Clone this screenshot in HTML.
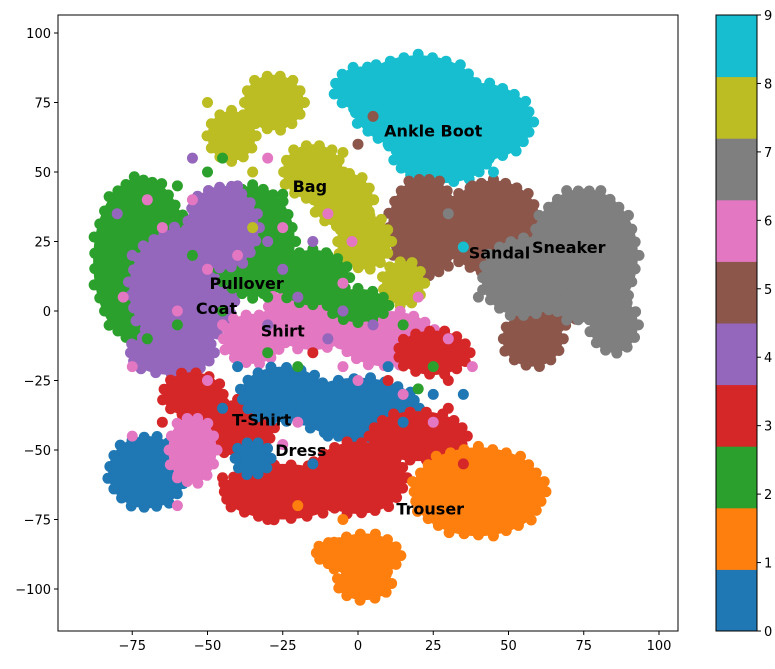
<!DOCTYPE html>
<html><head><meta charset="utf-8"><style>
body{margin:0;background:#fff;font-family:"DejaVu Sans","Liberation Sans",sans-serif}
svg text{font-family:"DejaVu Sans","Liberation Sans",sans-serif}
</style></head><body>
<svg id="chart" width="775" height="665">
<g id="plot"></g>
<g id="axes"></g>
<g id="cbar"></g>
</svg>
<script>
const colors=["#1f77b4","#ff7f0e","#2ca02c","#d62728","#9467bd","#8c564b","#e377c2","#7f7f7f","#bcbd22","#17becf"];
const classNames=["T-Shirt","Trouser","Pullover","Dress","Coat","Sandal","Shirt","Sneaker","Bag","Ankle Boot"];
// blobs: [class, cx, cy, rx, ry] in data units, drawn in order
const blobs=[
[9,20,75,22,17],[9,40,68,18,14],[9,28,56,16,10],[9,2,80,10,8],
[5,22,30,12,18],[5,45,30,16,17],[5,58,-10,10,10],[5,68,5,8,10],
[7,75,20,18,24],[7,55,12,14,14],[7,85,-5,8,10],
[8,-28,75,10,10],[8,-42,63,8,9],[8,-15,50,10,10],[8,-5,40,10,10],[8,2,25,9,10],[8,15,10,7,8],
[2,-72,18,16,30],[4,-58,8,18,22],[2,-35,25,14,20],[4,-45,30,12,15],[6,-15,-2,16,12],[2,-15,12,12,10],[6,10,-10,16,10],[3,25,-15,12,8],[2,0,2,10,6],[4,-62,-15,14,8],[6,-35,-10,10,9],
[3,-55,-30,10,8],[3,-40,-42,12,10],
[0,-70,-58,13,13],[0,-25,-30,14,10],[0,0,-35,20,11],[6,-55,-50,8,12],[3,20,-45,16,9],
[3,-25,-65,20,10],[3,0,-60,16,13],[0,-35,-53,6,6],
[1,40,-65,22,16],[1,2,-88,12,8],[1,2,-98,9,6],[1,-8,-87,6,4]
];
// scattered individual points: [class, x, y]
const pts=[
[9,35,23],[5,38,45],[8,-5,57],[2,-50,50],[4,-40,45],[6,-75,-20],[6,-60,-60],[2,-20,-20],[6,30,-10],[3,30,-25],
[0,-10,-45],[0,10,-20],[6,15,-30],[2,5,5],[4,-30,-5],[6,-50,-25],[3,-10,-55],[1,-20,-70],[0,-40,-20],[6,25,-40],
[3,35,-55],[1,-5,-75],[2,-80,0],[6,-65,30],[4,-80,35],[8,-20,55],[9,45,50],[7,40,5],[5,15,40],[2,-85,25],
[6,-5,-20],[0,25,-30],[3,-45,-60],[6,-45,-5],[2,-60,-5],[4,-25,15],[8,-35,30],[9,10,60],[5,5,70],[2,-85,25],
[6,-70,40],[2,-65,35],[4,-70,10],[6,-78,5],[2,-55,20],[6,-50,15],[2,-45,0],[4,-30,25],[6,-25,30],[2,-40,10],
[4,-20,5],[2,-10,20],[6,-5,10],[4,5,-5],[2,15,-5],[6,20,5],[3,10,-25],[2,25,-20],[4,-10,-10],[2,-30,-15],
[6,-60,0],[2,-70,-10],[4,-75,20],[6,-55,40],[2,-60,45],[4,-50,35],[6,-40,20],[2,-30,5],[4,-15,25],[6,-2,25],
[3,-15,-15],[0,-5,-30],[6,0,-25],[3,5,-45],[0,15,-40],[3,-30,-45],[6,-20,-40],[0,-45,-35],[3,-65,-40],[6,-75,-45],
[0,-80,-55],[6,-60,-70],[3,-30,-75],[0,-15,-55],[6,-25,-48],[3,30,-35],[0,35,-30],[6,38,-20],[2,20,-28],[4,-5,0],
[8,-50,75],[8,-35,50],[2,-45,55],[6,-30,55],[4,-55,55],[2,-25,42],[6,-10,35],[9,-5,75],[5,0,60],[7,30,35]
];
const xt=[-75,-50,-25,0,25,50,75,100], yt=[-100,-75,-50,-25,0,25,50,75,100];
const labels=[[25,65,"Ankle Boot"],[-16,45,"Bag"],[47,21,"Sandal"],[70,23,"Sneaker"],[-37,10,"Pullover"],[-47,1,"Coat"],[-25,-7,"Shirt"],[-32,-39,"T-Shirt"],[-19,-50,"Dress"],[24,-71,"Trouser"]];
const X=v=>358+3.01*v, Y=v=>311-2.78*v;
const L=58,R=678,T=15,B=631;
const NS="http://www.w3.org/2000/svg";
function mk(t,a,p){const e=document.createElementNS(NS,t);for(const k in a)e.setAttribute(k,a[k]);p.appendChild(e);return e;}
const plot=document.getElementById('plot'),axes=document.getElementById('axes'),cb=document.getElementById('cbar');
mk('clipPath',{id:'cp'},plot).appendChild(document.createElementNS(NS,'rect'));
const cr=plot.querySelector('clipPath rect');cr.setAttribute('x',L);cr.setAttribute('y',T);cr.setAttribute('width',R-L);cr.setAttribute('height',B-T);
const g=mk('g',{'clip-path':'url(#cp)'},plot);
blobs.forEach(b=>{
  const grp=mk('g',{},g);
  
  
  const cx=X(b[1]),cy=Y(b[2]),rx=b[3]*3.01,ry=b[4]*2.78;
  mk('ellipse',{cx,cy,rx,ry,fill:colors[b[0]]},grp);
  const n=Math.max(10,Math.round((rx+ry)/4));
  for(let i=0;i<n;i++){const a=i/n*2*Math.PI,f=(i%3===0)?1.02:0.97;
    mk('circle',{cx:cx+Math.cos(a)*rx*f,cy:cy+Math.sin(a)*ry*f,r:5.5,fill:colors[b[0]]},grp);}
});
pts.forEach(p=>{const c=mk('circle',{cx:X(p[1]),cy:Y(p[2]),r:5.5,fill:colors[p[0]]},g);
  
  });
labels.forEach(l=>{const t=mk('text',{x:X(l[0]),y:Y(l[1])+6,'text-anchor':'middle','font-size':16,'font-weight':'bold',fill:'#000'},g);t.textContent=l[2];
  
  });
mk('rect',{x:L,y:T,width:R-L,height:B-T,fill:'none',stroke:'#000','stroke-width':1},axes);
xt.forEach(v=>{mk('line',{x1:X(v),x2:X(v),y1:B,y2:B+4,stroke:'#000'},axes);
  const t=mk('text',{x:X(v),y:B+19,'text-anchor':'middle','font-size':13},axes);t.textContent=v<0?'\u2212'+(-v):v;
  
  });
yt.forEach(v=>{mk('line',{x1:L-4,x2:L,y1:Y(v),y2:Y(v),stroke:'#000'},axes);
  const t=mk('text',{x:L-7,y:Y(v)+5,'text-anchor':'end','font-size':13},axes);t.textContent=v<0?'\u2212'+(-v):v;
  
  });
const cx0=716,cw=41,seg=(B-T)/10;
colors.forEach((c,i)=>{const r=mk('rect',{x:cx0,y:B-(i+1)*seg,width:cw,height:seg+0.5,fill:c},cb);
  
  });
mk('rect',{x:cx0,y:T,width:cw,height:B-T,fill:'none',stroke:'#000'},cb);
for(let i=0;i<10;i++){const y=B-i*(B-T)/9;mk('line',{x1:cx0+cw,x2:cx0+cw+4,y1:y,y2:y,stroke:'#000'},cb);
  const t=mk('text',{x:cx0+cw+7,y:y+5,'font-size':13},cb);t.textContent=i;
  
  }
</script>
</body></html>
